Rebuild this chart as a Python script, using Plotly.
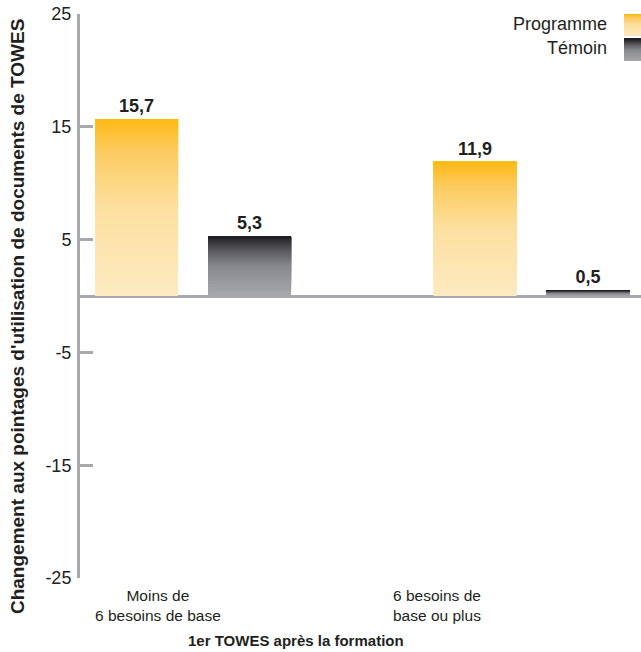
import plotly.graph_objects as go

# ---- data -------------------------------------------------------------
categories = ["Moins de<br>6 besoins de base", "6 besoins de<br>base ou plus"]
series_names = ["Programme", "Témoin"]
programme = [15.7, 11.9]
temoin = [5.3, 0.5]
y_ticks = [-25, -15, -5, 5, 15, 25]
x_title = "1er TOWES après la formation"
y_title = "Changement aux pointages d'utilisation de documents de TOWES"

# ---- styling ------------------------------------------------------------
TEXT = "#231F20"
AXIS = "#A7A9AC"
FONT = "Liberation Sans, Arial, sans-serif"

# vertical gradients, listed from the top of a bar (0) to its base (1)
PROG_STOPS = [(0.0, (253, 185, 19)), (0.18, (252, 203, 95)),
              (0.5, (253, 224, 160)), (1.0, (253, 234, 193))]
TEM_STOPS = [(0.0, (30, 28, 30)), (0.25, (92, 92, 96)),
             (0.5, (136, 137, 141)), (1.0, (167, 169, 172))]
N_SEG = 70


def shade(stops, t):
    for (t0, c0), (t1, c1) in zip(stops[:-1], stops[1:]):
        if t <= t1:
            f = (t - t0) / (t1 - t0) if t1 > t0 else 0
            c = [round(a + (b - a) * f) for a, b in zip(c0, c1)]
            return "rgb({},{},{})".format(*c)
    return "rgb({},{},{})".format(*stops[-1][1])


def fmt(v):
    return f"{v:.1f}".replace(".", ",")


fig = go.Figure()


def gradient_bars(values, stops, group, bottoms=None, xs=None, label=True, **kw):
    """Draw each bar as overlapping slices (bottom first), each running up to
    the bar's top, so every slice shows only its own band of the gradient."""
    bottoms = bottoms or [0] * len(values)
    xs = xs if xs is not None else categories
    for i in range(N_SEG):
        t = 1 - (i + 0.5) / N_SEG
        top = i == N_SEG - 1
        fig.add_bar(
            x=xs,
            y=[v * (N_SEG - i) / N_SEG for v in values],
            base=[b + v * i / N_SEG for b, v in zip(bottoms, values)],
            offsetgroup=group,
            marker=dict(color=shade(stops, t), line=dict(width=0)),
            text=[fmt(v) for v in values] if (top and label) else None,
            texttemplate="<b>%{text}</b>" if (top and label) else None,
            textposition="outside" if (top and label) else "none",
            textfont=dict(family=FONT, size=18, color=TEXT),
            cliponaxis=False,
            showlegend=False,
            hoverinfo="skip",
            **kw,
        )


gradient_bars(programme, PROG_STOPS, series_names[0])
gradient_bars(temoin, TEM_STOPS, series_names[1])

# legend swatches on a small hidden subplot in the top-right corner
gradient_bars([22], PROG_STOPS, "legend", bottoms=[25], xs=[0], label=False,
              xaxis="x2", yaxis="y2", width=1)
gradient_bars([22], TEM_STOPS, "legend", bottoms=[0], xs=[0], label=False,
              xaxis="x2", yaxis="y2", width=1)

annotations = [
    dict(text=series_names[0], x=0.943, y=0.982, xref="paper", yref="paper",
         xanchor="right", yanchor="middle", showarrow=False,
         font=dict(family=FONT, size=18, color=TEXT)),
    dict(text=series_names[1], x=0.943, y=0.940, xref="paper", yref="paper",
         xanchor="right", yanchor="middle", showarrow=False,
         font=dict(family=FONT, size=18, color=TEXT)),
    dict(text=categories[0], x=0.139, y=-0.0496, xref="paper", yref="paper",
         xanchor="center", yanchor="middle", showarrow=False, align="center",
         font=dict(family=FONT, size=15.5, color=TEXT)),
    dict(text=categories[1], x=0.636, y=-0.0496, xref="paper", yref="paper",
         xanchor="center", yanchor="middle", showarrow=False, align="center",
         font=dict(family=FONT, size=15.5, color=TEXT)),
    dict(text=f"<b>{x_title}</b>", x=0.385, y=-0.110, xref="paper", yref="paper",
         xanchor="center", yanchor="middle", showarrow=False,
         font=dict(family=FONT, size=15, color=TEXT)),
    dict(text=f"<b>{y_title}</b>", x=-0.1123, y=0.4645, xref="paper", yref="paper",
         xanchor="center", yanchor="middle", showarrow=False, textangle=-90,
         font=dict(family=FONT, size=19, color=TEXT)),
]

fig.update_layout(
    width=641,
    height=652,
    margin=dict(l=80, r=0, t=14, b=74),
    paper_bgcolor="white",
    plot_bgcolor="white",
    barmode="group",
    bargap=0.3324,
    bargroupgap=0.2654,
    showlegend=False,
    font=dict(family=FONT, color=TEXT),
    annotations=annotations,
    xaxis=dict(
        type="category",
        range=[-0.3338, 1.3232],
        showticklabels=False,
        ticks="",
        showline=False,
        showgrid=False,
        zeroline=False,
    ),
    yaxis=dict(
        range=[-25, 25],
        tickvals=y_ticks,
        ticktext=[str(v) for v in y_ticks],
        ticks="inside",
        ticklen=13,
        tickwidth=3,
        tickcolor=AXIS,
        showline=True,
        linecolor=AXIS,
        linewidth=3,
        showgrid=False,
        zeroline=True,
        zerolinecolor=AXIS,
        zerolinewidth=3,
        ticklabelstandoff=2,
        tickfont=dict(family=FONT, size=18, color=TEXT),
    ),
    xaxis2=dict(domain=[0.9697, 1.0], anchor="y2", range=[-0.5, 0.5],
                visible=False),
    yaxis2=dict(domain=[0.9167, 1.0], anchor="x2", range=[0, 47],
                visible=False),
)

fig.write_html("out.html")
